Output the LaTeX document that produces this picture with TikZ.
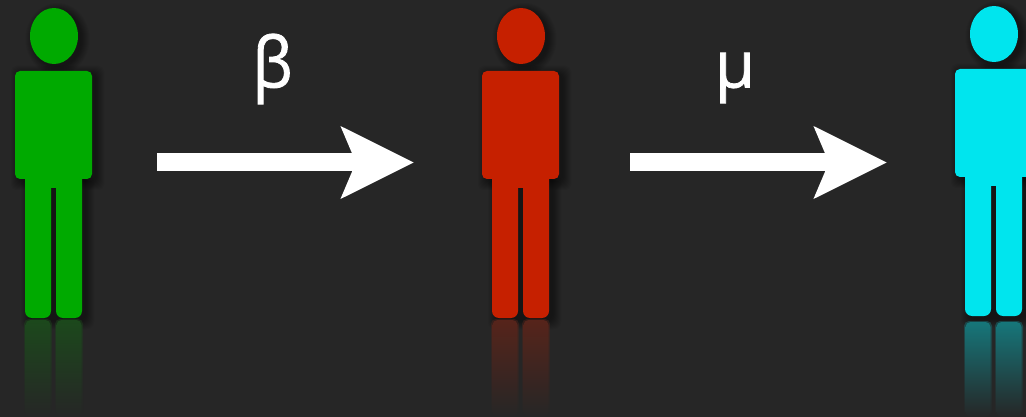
\documentclass[tikz,border=0pt]{standalone}
\usepackage{fontspec}
\setmainfont{Open Sans}
\newfontfamily\ratefont[FakeBold=1.2, FakeStretch=0.9]{Open Sans}
\newfontfamily\rateplain[FakeBold=1.2]{Open Sans}
\usepackage{xcolor}
\usetikzlibrary{positioning, arrows.meta, shapes.geometric}
\definecolor{bgdark}{HTML}{262626}
\definecolor{sgreen}{HTML}{00AA00}
\definecolor{ired}{HTML}{C62000}
\definecolor{rcyan}{HTML}{00E5EE}
\tikzset{
  head/.style={ellipse, fill=#1, minimum width=48pt, minimum height=56pt, inner sep=0pt},
  torso/.style={rectangle, fill=#1, rounded corners=5pt, minimum width=77pt, minimum height=108pt, inner sep=0pt},
  hip/.style={rectangle, fill=#1, minimum width=57pt, minimum height=20pt, inner sep=0pt},
  leg/.style={rectangle, fill=#1, rounded corners=7pt, minimum width=26pt, minimum height=146pt, inner sep=0pt},
  arr/.style={-{Stealth[length=72pt, width=70pt, inset=14pt]}, line width=18pt, white},
  rate/.style={text=white, inner sep=0pt},
  ghost/.style={fill=black, fill opacity=0.045},
}

\begin{document}
\begin{tikzpicture}[x=1pt, y=-1pt]

  \fill[bgdark] (0,0) rectangle (1026,417);
  \useasboundingbox (0,0) rectangle (1026,417);

  %% === One figure per compartment, drawn at the left figure's coordinates ===
  \foreach \name/\px/\py/\col/\glow/\rtop in {sus/0/0/sgreen/26/319, inf/467/0/ired/30/319, rec/940/-2/rcyan/42/323} {
    \begin{scope}[shift={(\px,\py)}]
      % Soft shadow
      \foreach \s in {0,2,...,16} {
        \fill[ghost] (57.5,39) ellipse ({24+\s/2} and {28+\s/2});
        \fill[ghost, rounded corners=5pt] ({19-\s/2},{74-\s/2}) rectangle ({96+\s/2},{182+\s/2});
        \fill[ghost, rounded corners=7pt] ({29-\s/2},{175}) rectangle ({86+\s/2},{321+\s/2});
      }

      % Reflection
      \foreach \rx in {25,56} {
        \shade[top color=\col!\glow!bgdark, bottom color=bgdark, rounded corners=5pt, opacity=0.45]
          ({\rx-1},\rtop) rectangle ({\rx+27},{417-\py});
        \shade[top color=\col!\glow!bgdark, bottom color=bgdark, rounded corners=5pt]
          ({\rx+0.5},{\rtop+1}) rectangle ({\rx+25.5},{417-\py});
      }

      % Figure
      \node[head=\col] at (54,36) (\name head) {};
      \node[leg=\col] at (38,245) (\name legl) {};
      \node[leg=\col] at (69,245) (\name legr) {};
      \node[hip=\col] at (53.5,178) (\name hip) {};
      \node[torso=\col] at (53.5,125) (\name torso) {};
    \end{scope}
  }

  % Arrow ends
  \coordinate (a1) at (157,162.5);
  \coordinate (a2) at (414,162.5);
  \coordinate (b1) at (630,162.5);
  \coordinate (b2) at (887,162.5);

  \draw[arr] (a1) -- (a2);
  \draw[arr] (b1) -- (b2);

  % Rates
  \node[rate, font=\ratefont\fontsize{70}{70}\selectfont] at (272.5,69) (beta) {β};
  \node[rate, font=\rateplain\fontsize{65}{65}\selectfont] at (735,78) (mu) {μ};

\end{tikzpicture}
\end{document}
